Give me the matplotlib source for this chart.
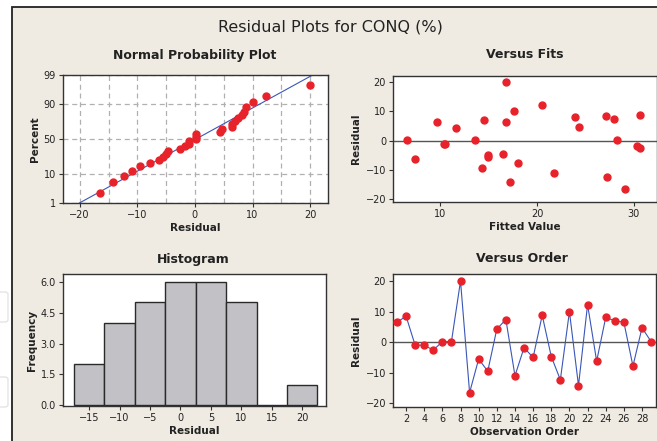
import numpy as np
import matplotlib
matplotlib.use("Agg")
import matplotlib.pyplot as plt
from matplotlib.patches import Rectangle, FancyBboxPatch
from statistics import NormalDist

# residuals in observation order, and the fitted value of each observation
resid = [6.5, 8.5, -1.0, -1.0, -2.6, 0.2, 0.2, 20.0, -16.5, -5.5,
         -9.5, 4.3, 7.4, -11.0, -1.8, -5.0, 8.8, -4.7, -12.3, 10.0,
         -14.2, 12.3, -6.2, 8.1, 7.0, 6.5, -7.8, 4.7, 0.2]
fitted = [9.7, 27.1, 10.4, 10.5, 30.6, 6.5, 13.6, 16.8, 29.1, 14.9,
          14.3, 11.6, 28.0, 21.8, 30.3, 14.9, 30.6, 16.5, 27.2, 17.6,
          17.2, 20.5, 7.4, 23.9, 14.5, 16.8, 18.0, 24.3, 28.3]
pct_ticks = [1, 10, 50, 90, 99]
hist_bins = [-17.5, -12.5, -7.5, -2.5, 2.5, 7.5, 12.5, 17.5, 22.5]

W, H = 657, 441
bg = '#efebe2'
red = '#e8222a'
blue = '#3a56b8'
plt.rcParams['font.family'] = ['DejaVu Sans']

fig = plt.figure(figsize=(W / 100, H / 100), dpi=100, facecolor='white')

# beige frame with dark top/left border
fig.add_artist(Rectangle((12 / W, -0.1), 1.1, 1.1 - 7 / H, transform=fig.transFigure,
                         facecolor=bg, edgecolor='#222222', linewidth=1.3, zorder=0))
# faint ghost boxes at the left edge
for y0 in [290, 375]:
    fig.add_artist(FancyBboxPatch((-10 / W, 1 - (y0 + 32) / H), 18 / W, 30 / H,
                                  boxstyle='round,pad=0,rounding_size=0.005',
                                  transform=fig.transFigure, facecolor='white',
                                  edgecolor='#e4e4e4', linewidth=1, zorder=0))


def axes_px(left, top, right, bottom):
    ax = fig.add_axes([left / W, 1 - bottom / H, (right - left) / W, (bottom - top) / H])
    ax.set_facecolor('white')
    for s in ax.spines.values():
        s.set_color('#333333')
        s.set_linewidth(1.0)
    ax.tick_params(labelsize=7, length=3, width=0.8, color='#333333', labelcolor='#222222', pad=2)
    return ax


def label(ax, xl, yl):
    ax.set_xlabel(xl, fontsize=7.5, fontweight='bold', labelpad=2, color='#222222')
    ax.set_ylabel(yl, fontsize=7.5, fontweight='bold', labelpad=3, color='#222222')


fig.text(330 / W, 1 - 27 / H, 'Residual Plots for CONQ (%)', ha='center', va='center',
         fontsize=11.5, color='#222222')

# --- Normal probability plot ---
ax1 = axes_px(63, 75, 328, 203)
nd = NormalDist()
n = len(resid)
srt = np.sort(resid)
zpos = [nd.inv_cdf((i + 1 - 0.3) / (n + 0.4)) for i in range(n)]
zlim = nd.inv_cdf(0.99)
mu, sd = np.mean(resid), np.std(resid, ddof=1)
ax1.plot([mu - sd * zlim, mu + sd * zlim], [-zlim, zlim], color=blue, lw=0.8, zorder=2)
ax1.plot(srt, zpos, 'o', color=red, ms=5, mec=red, zorder=3)
ax1.set_xlim(-22.9, 23.1)
ax1.set_ylim(-zlim, zlim)
ax1.set_xticks([-20, -10, 0, 10, 20])
ax1.set_xticks(np.arange(-20, 25, 5), minor=True)
ax1.tick_params(which='minor', length=0)
ax1.set_yticks([nd.inv_cdf(p / 100) for p in pct_ticks])
ax1.set_yticklabels([str(p) for p in pct_ticks])
ax1.grid(True, which='both', axis='x', ls=(0, (4, 3)), color='#b0b0b0', lw=0.9)
ax1.grid(True, which='major', axis='y', ls=(0, (4, 3)), color='#b0b0b0', lw=0.9)
ax1.set_axisbelow(True)
label(ax1, 'Residual', 'Percent')
fig.text(195 / W, 1 - 55 / H, 'Normal Probability Plot', ha='center', va='center',
         fontsize=9, fontweight='bold', color='#222222')

# --- Versus fits ---
ax2 = axes_px(393, 76, 657, 202)
ax2.axhline(0, color='#555555', lw=1.0, zorder=1)
ax2.plot(fitted, resid, 'o', color=red, ms=5, mec=red, zorder=3)
ax2.set_xlim(5.1, 32.4)
ax2.set_ylim(-21.0, 22.1)
ax2.set_xticks([10, 20, 30])
ax2.set_yticks([-20, -10, 0, 10, 20])
label(ax2, 'Fitted Value', 'Residual')
fig.text(525 / W, 1 - 55 / H, 'Versus Fits', ha='center', va='center',
         fontsize=9, fontweight='bold', color='#222222')

# --- Histogram ---
ax3 = axes_px(63, 274, 326, 406)
ax3.hist(resid, bins=hist_bins, color='#c2c2c6', edgecolor='#2a2a2a', linewidth=1.0)
ax3.set_xlim(-19.3, 23.9)
ax3.set_ylim(-0.03, 6.37)
ax3.set_xticks([-15, -10, -5, 0, 5, 10, 15, 20])
ax3.set_yticks([0, 1.5, 3.0, 4.5, 6.0])
ax3.set_yticklabels(['0.0', '1.5', '3.0', '4.5', '6.0'])
label(ax3, 'Residual', 'Frequency')
fig.text(193 / W, 1 - 259 / H, 'Histogram', ha='center', va='center',
         fontsize=9, fontweight='bold', color='#222222')

# --- Versus order ---
ax4 = axes_px(393, 274, 656, 407)
order = np.arange(1, n + 1)
ax4.axhline(0, color='#555555', lw=1.0, zorder=1)
ax4.plot(order, resid, '-', color=blue, lw=0.8, zorder=2)
ax4.plot(order, resid, 'o', color=red, ms=5, mec=red, zorder=3)
ax4.set_xlim(0.56, 29.54)
ax4.set_ylim(-21.2, 22.3)
ax4.set_xticks(np.arange(2, 30, 2))
ax4.set_yticks([-20, -10, 0, 10, 20])
label(ax4, 'Observation Order', 'Residual')
fig.text(522 / W, 1 - 259 / H, 'Versus Order', ha='center', va='center',
         fontsize=9, fontweight='bold', color='#222222')

fig.savefig('out.png', dpi=100, facecolor=fig.get_facecolor())
